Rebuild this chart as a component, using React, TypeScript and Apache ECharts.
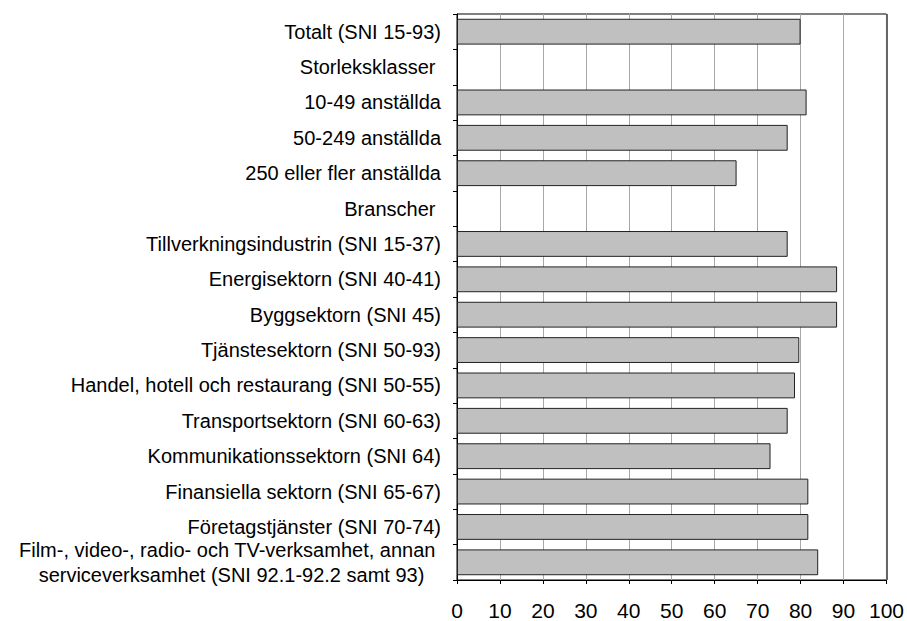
import React, { useEffect, useRef } from "react";
import * as echarts from "echarts";

const categories: string[] = [
  "Totalt (SNI 15-93)",
  "Storleksklasser ",
  "10-49 anställda",
  "50-249 anställda",
  "250 eller fler anställda",
  "Branscher ",
  "Tillverkningsindustrin (SNI 15-37)",
  "Energisektorn (SNI 40-41)",
  "Byggsektorn (SNI 45)",
  "Tjänstesektorn (SNI 50-93)",
  "Handel, hotell och restaurang (SNI 50-55)",
  "Transportsektorn (SNI 60-63)",
  "Kommunikationssektorn (SNI 64)",
  "Finansiella sektorn (SNI 65-67)",
  "Företagstjänster (SNI 70-74)",
  "Film-, video-, radio- och TV-verksamhet, annan \nserviceverksamhet (SNI 92.1-92.2 samt 93)   ",
];

const values: (number | null)[] = [
  80.0, null, 81.4, 77.0, 65.1, null, 77.0, 88.5, 88.5, 79.7, 78.7, 77.0, 73.0, 81.8, 81.8, 84.1,
];

const xTicks = { min: 0, max: 100, interval: 10 };

const FONT = 'Arial, "Liberation Sans", sans-serif';

export default function App() {
  const ref = useRef<HTMLDivElement>(null);
  useEffect(() => {
    if (!ref.current) return;
    const chart = echarts.init(ref.current, undefined, { renderer: "svg" });
    chart.setOption({
      animation: false,
      backgroundColor: "#ffffff",
      grid: {
        left: 457,
        right: 19,
        top: 14,
        bottom: 41,
        containLabel: false,
        show: true,
        borderColor: "#000",
        borderWidth: 1,
        backgroundColor: "transparent",
      },
      xAxis: {
        type: "value",
        min: xTicks.min,
        max: xTicks.max,
        interval: xTicks.interval,
        axisLine: { show: true, lineStyle: { color: "#000", width: 1 } },
        axisTick: { show: true, length: 4, lineStyle: { color: "#000" } },
        axisLabel: { fontFamily: FONT, fontSize: 21, color: "#000", margin: 20 },
        splitLine: { show: true, lineStyle: { color: "#a8a8a8", width: 1 } },
      },
      yAxis: {
        type: "category",
        data: categories,
        inverse: true,
        axisLine: { show: true, lineStyle: { color: "#000", width: 1 } },
        axisTick: { show: true, length: 4, lineStyle: { color: "#000" } },
        axisLabel: {
          fontFamily: FONT,
          fontSize: 20,
          color: "#000",
          margin: 16,
          lineHeight: 25,
          interval: 0,
        },
        splitLine: { show: false },
      },
      series: [
        {
          type: "bar",
          data: values,
          barCategoryGap: "27%",
          itemStyle: { color: "#c0c0c0", borderColor: "#222", borderWidth: 1 },
          emphasis: { disabled: true },
          markLine: {
            silent: true,
            symbol: "none",
            label: { show: false },
            lineStyle: { color: "#666", type: "solid", width: 2 },
            data: [{ xAxis: 100 }],
          },
        },
      ],
    });
    return () => chart.dispose();
  }, []);
  return <div ref={ref} style={{ width: 907, height: 621, position: "absolute", left: 0, top: 0 }} />;
}
